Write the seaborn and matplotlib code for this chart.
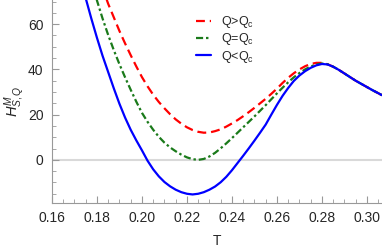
import numpy as np
import pandas as pd
import matplotlib
matplotlib.use("Agg")
import matplotlib.pyplot as plt
import seaborn as sns

# values
T = [0.175, 0.1775, 0.18, 0.1825, 0.185, 0.1875, 0.19, 0.1925, 0.195, 0.1975,
     0.20, 0.2025, 0.205, 0.2075, 0.21, 0.2125, 0.215, 0.2175, 0.22, 0.2225,
     0.225, 0.2275, 0.23, 0.2325, 0.235, 0.2375, 0.24, 0.2425, 0.245, 0.2475,
     0.25, 0.2525, 0.255, 0.2575, 0.26, 0.2625, 0.265, 0.2675, 0.27, 0.2725,
     0.275, 0.2775, 0.28, 0.2825, 0.285, 0.2875, 0.29, 0.2925, 0.295, 0.2975,
     0.30, 0.3025, 0.305, 0.3067]

H_blue = [71.5, 62.5, 54, 46.0, 38.8, 31.6, 24.8, 18.7, 13.3, 8.6,
          4.2, -0.4, -4.2, -7.3, -9.8, -11.7, -13.2, -14.3, -15.0, -15.3,
          -15.0, -14.3, -13.2, -11.8, -9.9, -7.5, -4.6, -1.4, 1.8, 5.1,
          8.5, 12.0, 15.6, 20.0, 24.3, 28.3, 31.8, 34.9, 37.3, 39.2,
          40.7, 41.8, 42.4, 42.2, 41.2, 39.8, 38.2, 36.6, 35.0, 33.6,
          32.2, 30.8, 29.5, 28.6]

H_green = [90, 80, 70.5, 62.5, 55.2, 48.5, 42.3, 36.5, 31.0, 25.7,
           20.8, 16.8, 13.3, 10.2, 7.6, 5.5, 3.8, 2.3, 1.1, 0.3,
           0.0, 0.4, 1.5, 3.1, 5.1, 7.3, 9.6, 12.0, 14.4, 16.8,
           19.2, 21.7, 24.2, 26.8, 29.4, 31.9, 34.3, 36.5, 38.4, 40.0,
           41.3, 42.2, 42.6, 42.3, 41.2, 39.8, 38.2, 36.6, 35.0, 33.6,
           32.2, 30.8, 29.5, 28.6]

H_red = [np.nan, np.nan, np.nan, 76, 69, 63, 57, 51.5, 46.3, 41.3,
         36.6, 32.5, 28.8, 25.6, 22.8, 20.2, 17.9, 16.0, 14.4, 13.2,
         12.4, 12.0, 12.1, 12.7, 13.5, 14.7, 16.1, 17.6, 19.3, 21.1,
         23.0, 25.0, 27.0, 29.2, 31.5, 34.0, 36.3, 38.3, 40.0, 41.4,
         42.4, 42.9, 42.9, 42.3, 41.2, 39.8, 38.2, 36.6, 35.0, 33.6,
         32.2, 30.8, 29.5, 28.6]

cases = ["Q>Q$_\\mathregular{c}$", "Q=Q$_\\mathregular{c}$", "Q<Q$_\\mathregular{c}$"]
colors = ["#ff0000", "#1a7a1a", "#0000ff"]
dashes = [(4, 2.2), (3.2, 1.3, 1.1, 1.3), ""]

df = pd.DataFrame({"T": T, cases[0]: H_red, cases[1]: H_green, cases[2]: H_blue})
df = df.melt(id_vars="T", var_name="case", value_name="H").dropna()

sns.set_style("ticks")
plt.rcParams["font.family"] = ["Liberation Sans", "DejaVu Sans"]
plt.rcParams["mathtext.fontset"] = "custom"
plt.rcParams["mathtext.rm"] = "Liberation Sans"
plt.rcParams["mathtext.it"] = "Liberation Sans:italic"

fig = plt.figure(figsize=(3.82, 2.47), dpi=100)
ax = fig.add_axes([0.136, 0.178, 0.864, 0.822])

ax.axhline(0, color="#d9d9d9", linewidth=1.5, zorder=0)

sns.lineplot(data=df, x="T", y="H", hue="case", style="case", hue_order=cases,
             style_order=cases, palette=dict(zip(cases, colors)),
             dashes=dict(zip(cases, dashes)), estimator=None, linewidth=1.6,
             ax=ax, legend=False)

ax.set_xlim(0.16, 0.3067)
ax.set_ylim(-19.1, 70.7)
ax.set_xticks([0.16, 0.18, 0.20, 0.22, 0.24, 0.26, 0.28, 0.30])
ax.set_xticklabels(["0.16", "0.18", "0.20", "0.22", "0.24", "0.26", "0.28", "0.30"])
ax.set_yticks([0, 20, 40, 60])
ax.set_xticks(np.arange(0.165, 0.306, 0.005), minor=True)
ax.set_yticks([-15, -10, -5, 5, 10, 15, 25, 30, 35, 45, 50, 55, 65, 70], minor=True)
ax.tick_params(direction="in", which="major", length=5, width=0.8, color="#999999",
               labelsize=10, pad=6)
ax.tick_params(direction="in", which="minor", length=3, width=0.6, color="#999999")
for s in ["top", "right"]:
    ax.spines[s].set_visible(False)
for s in ["left", "bottom"]:
    ax.spines[s].set_color("#999999")
    ax.spines[s].set_linewidth(0.8)

ax.set_xlabel("T", fontsize=10, labelpad=6)
ax.set_ylabel("$H^{M}_{S,Q}$", fontsize=10.5, labelpad=1)

handles = [plt.Line2D([], [], color=c, linewidth=1.6) for c in colors]
handles[0].set_dashes(dashes[0])
handles[1].set_dashes(dashes[1])
ax.legend(handles, cases, loc="upper left", bbox_to_anchor=(0.42, 0.955),
          frameon=False, handlelength=1.2, handletextpad=0.8, labelspacing=0.1,
          fontsize=9, borderaxespad=0)

fig.savefig("out.png", dpi=100)
